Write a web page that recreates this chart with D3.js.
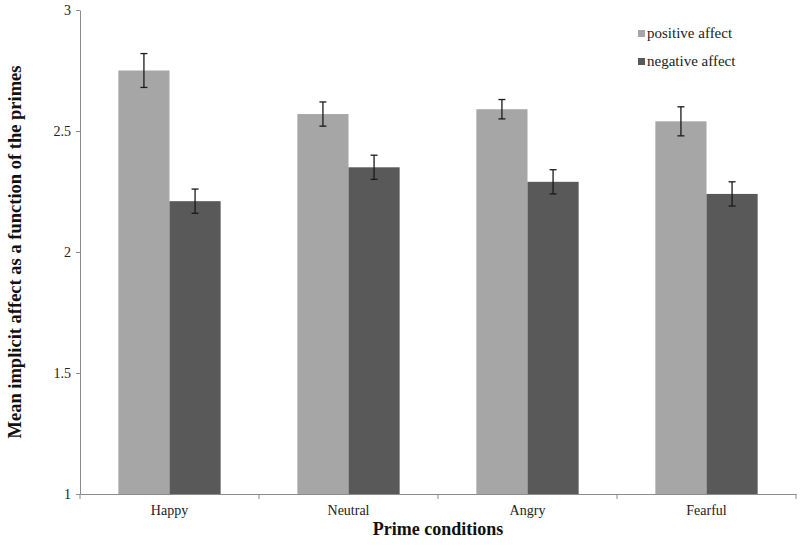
<!DOCTYPE html>
<html>
<head>
<meta charset="utf-8">
<script src="https://cdn.jsdelivr.net/npm/d3@7"></script>
<style>
body { margin: 0; background: #fff; }
</style>
</head>
<body>
<svg id="chart" width="800" height="546"></svg>
<script>
// data
var categories = ["Happy", "Neutral", "Angry", "Fearful"];
var seriesNames = ["positive affect", "negative affect"];
var positiveMeans = [2.75, 2.57, 2.59, 2.54];
var positiveErr = [0.07, 0.05, 0.04, 0.06];
var negativeMeans = [2.21, 2.35, 2.29, 2.24];
var negativeErr = [0.05, 0.05, 0.05, 0.05];
var yTicks = [1, 1.5, 2, 2.5, 3];

var serif = "'Liberation Serif', 'Times New Roman', serif";
var colors = ["#a6a6a6", "#595959"];
var svg = d3.select("#chart").attr("font-family", serif);
var margin = {left: 80, right: 4, top: 10, bottom: 52};
var W = 800, H = 546;

var x = d3.scaleBand().domain(categories).range([margin.left, W - margin.right]).paddingInner(0).paddingOuter(0);
var y = d3.scaleLinear().domain([1, 3]).range([H - margin.bottom, margin.top]);
var x1 = d3.scaleBand().domain(seriesNames).range([0, x.bandwidth()]).paddingInner(0).paddingOuter(0.75);

var rows = categories.map(function (c, i) {
	return {cat: c, vals: [
		{s: seriesNames[0], v: positiveMeans[i], e: positiveErr[i]},
		{s: seriesNames[1], v: negativeMeans[i], e: negativeErr[i]}
	]};
});

// bars
var groups = svg.selectAll("g.grp").data(rows).enter().append("g").attr("class", "grp")
	.attr("transform", function (d) { return "translate(" + x(d.cat) + ",0)"; });
groups.selectAll("rect").data(function (d) { return d.vals; }).enter().append("rect")
	.attr("x", function (d) { return x1(d.s); })
	.attr("width", x1.bandwidth())
	.attr("y", function (d) { return y(d.v); })
	.attr("height", function (d) { return y(1) - y(d.v); })
	.attr("fill", function (d, i) { return colors[i]; });

// error bars
var eb = groups.selectAll("g.err").data(function (d) { return d.vals; }).enter().append("g").attr("class", "err")
	.attr("stroke", "#1a1a1a").attr("stroke-width", 1.3);
eb.append("line")
	.attr("x1", function (d) { return x1(d.s) + x1.bandwidth() / 2; })
	.attr("x2", function (d) { return x1(d.s) + x1.bandwidth() / 2; })
	.attr("y1", function (d) { return y(d.v + d.e); })
	.attr("y2", function (d) { return y(d.v - d.e); });
[1, -1].forEach(function (sgn) {
	eb.append("line")
		.attr("x1", function (d) { return x1(d.s) + x1.bandwidth() / 2 - 3.5; })
		.attr("x2", function (d) { return x1(d.s) + x1.bandwidth() / 2 + 3.5; })
		.attr("y1", function (d) { return y(d.v + sgn * d.e); })
		.attr("y2", function (d) { return y(d.v + sgn * d.e); });
});

// y axis
var yAxis = svg.append("g").attr("transform", "translate(" + margin.left + ",0)")
	.call(d3.axisLeft(y).tickValues(yTicks).tickSize(4).tickSizeOuter(0).tickFormat(d3.format("")))
	.attr("font-family", serif);
yAxis.select(".domain").attr("stroke", "#8c8c8c");
yAxis.selectAll(".tick line").attr("stroke", "#8c8c8c");
yAxis.selectAll(".tick text").attr("font-size", 14).attr("fill", "#222").attr("x", -9);

// x axis
var xAxis = svg.append("g").attr("transform", "translate(0," + y(1) + ")")
	.call(d3.axisBottom(x).tickSize(0).tickSizeOuter(0))
	.attr("font-family", serif);
xAxis.select(".domain").attr("stroke", "#8c8c8c");
xAxis.selectAll(".tick text").attr("font-size", 14).attr("fill", "#222").attr("dy", "1.05em").attr("y", 6);
var bounds = categories.map(function (c) { return x(c); }).concat([x.range()[1]]);
xAxis.selectAll("line.sep").data(bounds).enter().append("line").attr("class", "sep")
	.attr("x1", function (d) { return d; }).attr("x2", function (d) { return d; })
	.attr("y1", 0).attr("y2", 5).attr("stroke", "#8c8c8c");

// axis titles
svg.append("text").attr("x", (margin.left + W - margin.right) / 2).attr("y", 535)
	.attr("text-anchor", "middle").attr("font-size", 18).attr("font-weight", "bold").attr("fill", "#111")
	.text("Prime conditions");
svg.append("text").attr("transform", "translate(21,252) rotate(-90)")
	.attr("text-anchor", "middle").attr("font-size", 18.5).attr("font-weight", "bold").attr("fill", "#111")
	.text("Mean implicit affect as a function of the primes");

// legend
var leg = svg.selectAll("g.leg").data(seriesNames).enter().append("g").attr("class", "leg")
	.attr("transform", function (d, i) { return "translate(638," + (34 + i * 28) + ")"; });
leg.append("rect").attr("x", 0).attr("y", -4).attr("width", 7).attr("height", 7)
	.attr("fill", function (d, i) { return colors[i]; });
leg.append("text").attr("x", 9).attr("y", 4).attr("font-size", 15).attr("fill", "#222")
	.text(function (d) { return d; });
</script>
</body>
</html>
